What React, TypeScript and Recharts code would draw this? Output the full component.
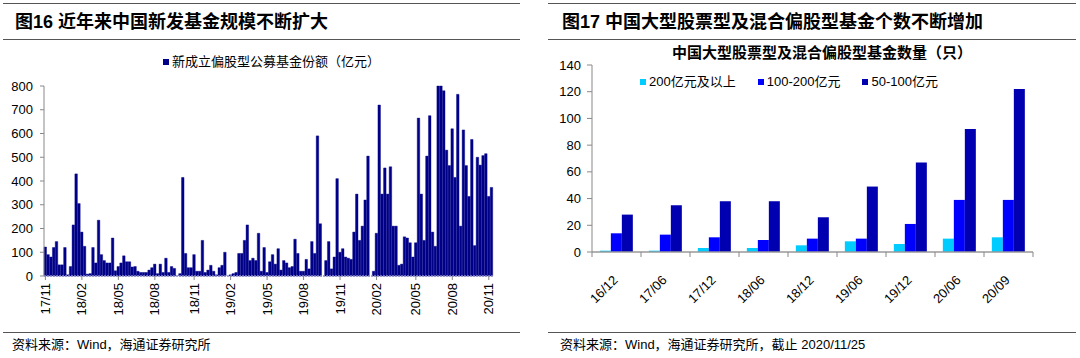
import React from 'react';
import { BarChart, Bar, XAxis, YAxis } from 'recharts';

// ---------- Left chart data (weekly new equity-fund shares, 亿元) ----------
const fundWeekly: number[] = [
  122, 90, 80, 120, 145, 47, 47, 120, 5, 40, 215, 430, 305,
  185, 125, 8, 10, 120, 55, 235, 90, 65, 55, 55, 160, 22,
  40, 55, 85, 60, 60, 38, 40, 20, 15, 15, 15, 25, 35,
  50, 10, 50, 15, 75, 15, 40, 32, 0, 10, 415, 95,
  35, 35, 90, 20, 20, 150, 15, 25, 45, 20, 5, 35, 45, 100, 0,
  5, 10, 15, 95, 95, 150, 215, 65, 75, 65, 180, 20, 120,
  15, 60, 90, 50, 115, 25, 65, 55, 35, 40, 155, 95, 20,
  20, 70, 30, 145, 95, 590, 220, 0, 65, 145, 30, 80, 410,
  100, 115, 80, 75, 70, 185, 345, 150, 210, 320, 505, 0, 20,
  180, 720, 345, 455, 345, 460, 210, 210, 45, 50, 165, 160, 140, 80,
  140, 665, 345, 150, 505, 675, 185, 125, 800, 800, 780, 530, 465, 620,
  415, 765, 210, 615, 465, 335, 575, 128, 500, 467, 507, 515, 335, 373,
];
// index of the first week of each labelled month
const fundTickWeeks: number[] = [0, 13, 26, 39, 53, 66, 79, 92, 105, 118, 132, 145, 158];
const fundTickLabels: string[] = [
  '17/11', '18/02', '18/05', '18/08', '18/11', '19/02', '19/05',
  '19/08', '19/11', '20/02', '20/05', '20/08', '20/11',
];
const fundYTicks: number[] = [0, 100, 200, 300, 400, 500, 600, 700, 800];

// ---------- Right chart data (number of funds) ----------
const periods: string[] = ['16/12', '17/06', '17/12', '18/06', '18/12', '19/06', '19/12', '20/06', '20/09'];
const over200: number[] = [1, 1, 3, 3, 5, 8, 6, 10, 11];
const from100to200: number[] = [14, 13, 11, 9, 10, 10, 21, 39, 39];
const from50to100: number[] = [28, 35, 38, 38, 26, 49, 67, 92, 122];
const countYTicks: number[] = [0, 20, 40, 60, 80, 100, 120, 140];

const FONT = "'Liberation Sans', Arial, 'Noto Sans CJK SC', sans-serif";
const NAVY = '#000088';
const C1 = '#00ccff';
const C2 = '#0000ff';
const C3 = '#0000b0';

const LEFT_W = 540;
const LEFT_MARGIN = { top: 86, right: 47, bottom: 42, left: 4 };
const LEFT_YAXIS_W = 40;
const leftPlotWidth = LEFT_W - LEFT_MARGIN.left - LEFT_MARGIN.right - LEFT_YAXIS_W;

const leftData = fundWeekly.map((v, i) => ({ week: i, value: v }));
const rightData = periods.map((p, i) => ({
  period: p,
  a: over200[i],
  b: from100to200[i],
  c: from50to100[i],
}));

const LeftTick = (props: any) => {
  const { x, y, payload } = props;
  const k = fundTickWeeks.indexOf(payload.value);
  const label = k >= 0 ? fundTickLabels[k] : '';
  return (
    <text
      x={x}
      y={y}
      dy={4.5}
      transform={`rotate(-90, ${x}, ${y})`}
      textAnchor="end"
      fontSize={13}
      fontFamily={FONT}
      fill="#000"
    >
      {label}
    </text>
  );
};

const RightTick = (props: any) => {
  const { x, y, payload, index, visibleTicksCount } = props;
  const px = x + 2;
  const py = y + 21;
  const axisY = y - 8;
  const half = 24.5;
  return (
    <g>
      <line x1={x - half} x2={x - half} y1={axisY} y2={axisY + 5} stroke="#888" />
      {index === (visibleTicksCount ?? periods.length) - 1 && (
        <line x1={x + half} x2={x + half} y1={axisY} y2={axisY + 5} stroke="#888" />
      )}
      <text
        x={px}
        y={py}
        transform={`rotate(-45, ${px}, ${py})`}
        textAnchor="end"
        fontSize={13}
        fontFamily={FONT}
        fill="#000"
      >
        {payload.value}
      </text>
    </g>
  );
};

const hr = (left: number, top: number, width: number): React.CSSProperties => ({
  position: 'absolute',
  left,
  top,
  width,
  height: 0,
  borderTop: '1.5px solid #555',
});

const Square = ({ color }: { color: string }) => (
  <span style={{ display: 'inline-block', width: 6, height: 6, background: color, marginRight: 3 }} />
);

export default function App() {
  return (
    <div
      style={{
        position: 'fixed',
        left: 0,
        top: 0,
        width: 1080,
        height: 358,
        background: '#fff',
        fontFamily: FONT,
        color: '#000',
        overflow: 'hidden',
      }}
    >
      {/* Left panel frame */}
      <div style={hr(3, 3, 517)} />
      <div style={{ position: 'absolute', left: 15, top: 10, fontSize: 18, fontWeight: 'bold', lineHeight: '24px', whiteSpace: 'nowrap' }}>
        图16 近年来中国新发基金规模不断扩大
      </div>
      <div style={hr(3, 39, 517)} />
      <div style={{ position: 'absolute', left: 163, top: 53, fontSize: 13, lineHeight: '18px', whiteSpace: 'nowrap', display: 'flex', alignItems: 'center' }}>
        <Square color={NAVY} />
        <span>新成立偏股型公募基金份额（亿元）</span>
      </div>
      <div style={{ position: 'absolute', left: 0, top: 0 }}>
        <BarChart
          width={LEFT_W}
          height={358}
          data={leftData}
          margin={LEFT_MARGIN}
          barCategoryGap={0}
          barGap={0}
        >
          <XAxis
            dataKey="week"
            type="category"
            ticks={fundTickWeeks}
            interval={0}
            height={40}
            tick={<LeftTick />}
            tickSize={4}
            tickMargin={3}
            axisLine={{ stroke: '#8a8ac8', strokeWidth: 1.5, strokeDasharray: '2 1' }}
            tickLine={{ stroke: '#888' }}
          />
          <YAxis
            domain={[0, 800]}
            ticks={fundYTicks}
            interval={0}
            width={LEFT_YAXIS_W}
            tickSize={4}
            tickMargin={7}
            tick={{ fontSize: 13, fill: '#000', fontFamily: FONT }}
            axisLine={{ stroke: '#888' }}
            tickLine={{ stroke: '#888' }}
          />
          <Bar
            dataKey="value"
            fill={NAVY}
            stroke={NAVY}
            strokeWidth={0.4}
            barSize={leftPlotWidth / fundWeekly.length}
            isAnimationActive={false}
          />
        </BarChart>
      </div>
      <div style={hr(3, 332, 517)} />
      <div style={{ position: 'absolute', left: 12, top: 337, fontSize: 13, lineHeight: '16px', whiteSpace: 'nowrap' }}>
        资料来源：Wind，海通证券研究所
      </div>

      {/* Right panel frame */}
      <div style={hr(548, 3, 528)} />
      <div style={{ position: 'absolute', left: 562, top: 10, fontSize: 18, fontWeight: 'bold', lineHeight: '24px', whiteSpace: 'nowrap' }}>
        图17 中国大型股票型及混合偏股型基金个数不断增加
      </div>
      <div style={hr(548, 39, 528)} />
      <div style={{ position: 'absolute', left: 672, top: 43, fontSize: 15, fontWeight: 'bold', lineHeight: '20px', whiteSpace: 'nowrap' }}>
        中国大型股票型及混合偏股型基金数量（只）
      </div>
      <div style={{ position: 'absolute', left: 640, top: 73, fontSize: 13, lineHeight: '18px', whiteSpace: 'nowrap', display: 'flex', alignItems: 'center', gap: 22 }}>
        <span style={{ display: 'flex', alignItems: 'center' }}>
          <Square color={C1} />
          200亿元及以上
        </span>
        <span style={{ display: 'flex', alignItems: 'center' }}>
          <Square color={C2} />
          100-200亿元
        </span>
        <span style={{ display: 'flex', alignItems: 'center' }}>
          <Square color={C3} />
          50-100亿元
        </span>
      </div>
      <div style={{ position: 'absolute', left: 540, top: 0 }}>
        <BarChart
          width={540}
          height={358}
          data={rightData}
          margin={{ top: 65, right: 47, bottom: 56, left: 12 }}
          barCategoryGap="16%"
          barGap={0}
        >
          <XAxis
            dataKey="period"
            interval={0}
            height={50}
            tick={<RightTick />}
            tickLine={false}
            axisLine={{ stroke: '#999', strokeWidth: 1.5 }}
          />
          <YAxis
            domain={[0, 140]}
            ticks={countYTicks}
            interval={0}
            width={40}
            tickSize={5}
            tickMargin={6}
            tick={{ fontSize: 13, fill: '#000', fontFamily: FONT }}
            axisLine={{ stroke: '#888' }}
            tickLine={{ stroke: '#888' }}
          />
          <Bar dataKey="a" fill={C1} isAnimationActive={false} />
          <Bar dataKey="b" fill={C2} isAnimationActive={false} />
          <Bar dataKey="c" fill={C3} isAnimationActive={false} />
        </BarChart>
      </div>
      <div style={hr(548, 332, 528)} />
      <div style={{ position: 'absolute', left: 560, top: 337, fontSize: 13, lineHeight: '16px', whiteSpace: 'nowrap' }}>
        资料来源：Wind，海通证券研究所，截止 2020/11/25
      </div>
    </div>
  );
}
